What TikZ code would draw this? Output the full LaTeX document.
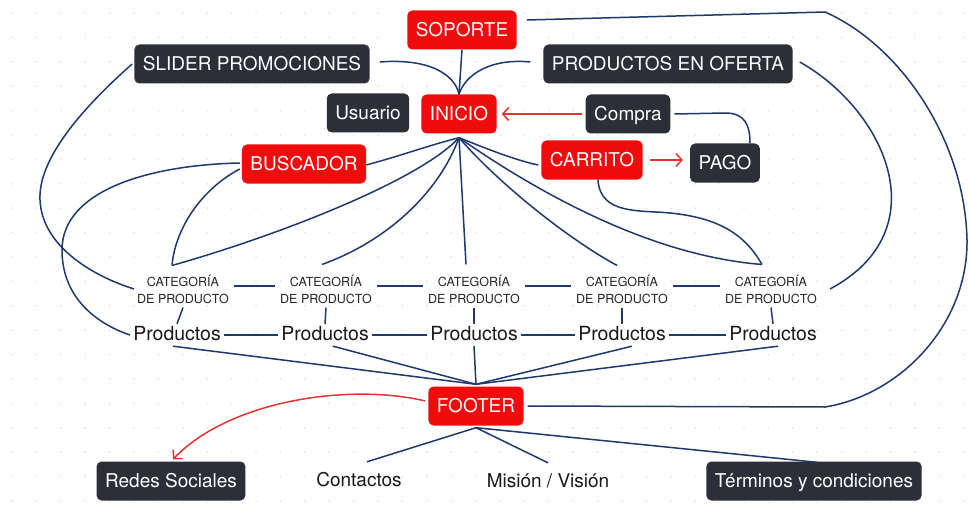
\documentclass[tikz,border=0pt]{standalone}
\usepackage{fontspec}
\setmainfont{TeX Gyre Heros}
\usetikzlibrary{arrows.meta}
\definecolor{nodered}{RGB}{240,12,12}
\definecolor{nodedark}{RGB}{44,47,56}
\definecolor{linkblue}{RGB}{30,58,108}
\definecolor{arrowred}{RGB}{226,52,52}
\definecolor{dotgray}{RGB}{228,228,228}
\tikzset{
  boxbase/.style={rounded corners=5pt, text=white, font=\fontsize{19}{22}\selectfont,
    minimum height=39pt, inner xsep=8.5pt, text height=13.7pt, text depth=0pt},
  redbox/.style={boxbase, fill=nodered},
  darkbox/.style={boxbase, fill=nodedark},
  cat/.style={font=\fontsize{12.5}{17}\selectfont, align=center, text=black!85, inner xsep=5pt, inner ysep=4pt},
  prod/.style={font=\fontsize{19.5}{22}\selectfont, text=black!90, inner xsep=3pt, inner ysep=2pt, text height=14pt, text depth=4pt},
  plain/.style={font=\fontsize{19}{22}\selectfont, text=black!90, inner sep=2pt, text height=14pt, text depth=4pt},
  link/.style={draw=linkblue, line width=1.5pt},
  redlink/.style={draw=arrowred, line width=1.5pt, -{Straight Barb[length=6pt,width=13pt,line width=1.5pt]}}
}
\begin{document}
\begin{tikzpicture}[x=1pt,y=-1pt]
\useasboundingbox (0,0) rectangle (969,508);
\fill[white] (0,0) rectangle (969,508);
\foreach \i in {0,...,39}{
  \foreach \j in {0,...,20}{
    \fill[dotgray] (12+24.4*\i, 13+24.4*\j) circle (1pt);
  }
}
% nodes
\node[redbox] (sop) at (462,30) {SOPORTE};
\node[darkbox] (sli) at (252,64) {SLIDER PROMOCIONES};
\node[darkbox] (ofe) at (668,64) {PRODUCTOS EN OFERTA};
\node[darkbox] (usu) at (368,113) {Usuario};
\node[redbox] (ini) at (459,114) {INICIO};
\node[darkbox] (com) at (628,114) {Compra};
\node[redbox] (bus) at (304,164) {BUSCADOR};
\node[redbox] (car) at (592,160) {CARRITO};
\node[darkbox] (pag) at (725,163) {PAGO};
\node[cat] (c1) at (183,289) {CATEGORÍA\\DE PRODUCTO};
\node[cat] (c2) at (326,289) {CATEGORÍA\\DE PRODUCTO};
\node[cat] (c3) at (474,289) {CATEGORÍA\\DE PRODUCTO};
\node[cat] (c4) at (622,289) {CATEGORÍA\\DE PRODUCTO};
\node[cat] (c5) at (771,289) {CATEGORÍA\\DE PRODUCTO};
\node[prod] (p1) at (177,335) {Productos};
\node[prod] (p2) at (325,335) {Productos};
\node[prod] (p3) at (474,335) {Productos};
\node[prod] (p4) at (622,335) {Productos};
\node[prod] (p5) at (773,335) {Productos};
\node[redbox] (foo) at (476,406) {FOOTER};
\node[darkbox] (red) at (171,481) {Redes Sociales};
\node[plain] (con) at (359,481) {Contactos};
\node[plain] (mis) at (548,482) {Misión / Visión};
\node[darkbox] (ter) at (814,481) {Términos y condiciones};
\coordinate (hub) at ([yshift=-4pt]ini.south);
\coordinate (fhub) at ([yshift=2pt]foo.north);
\coordinate (fbot) at ([yshift=-2pt]foo.south);
\coordinate (c1top) at ([xshift=-11pt,yshift=5pt]c1.north);
\coordinate (c5top) at ([xshift=-9pt,yshift=6pt]c5.north);
% top connectors
\draw[link] (sop.south) -- (ini.north);
\draw[link] ([xshift=10pt,yshift=2pt]sli.east) .. controls (430,58) and (455,75) .. (ini.north);
\draw[link] ([xshift=-13pt,yshift=2pt]ofe.west) .. controls (490,58) and (465,75) .. (ini.north);
\draw[link] ([xshift=10pt,yshift=10pt]sop.east) -- (825,12)
  .. controls (900,45) and (965,140) .. (967,240)
  .. controls (968,325) and (900,395) .. (825,407) -- ([xshift=4pt]foo.east);
\draw[link] ([xshift=7pt,yshift=2pt]ofe.east) .. controls (885,110) and (940,230) .. ([xshift=8pt]c5.east);
\draw[link] ([xshift=-2pt]sli.west) .. controls (80,110) and (38,160) .. (40,200)
  .. controls (42,245) and (90,275) .. ([xshift=2pt]c1.west);
\draw[link] ([xshift=-2pt,yshift=1pt]bus.west) .. controls (150,165) and (62,190) .. (62,250)
  .. controls (62,300) and (100,325) .. (p1.west);
\draw[link] ([xshift=-2pt,yshift=-5pt]bus.west) .. controls (200,190) and (175,230) .. (c1top);
% fan from INICIO
\draw[link] (hub) .. controls (430,145) and (400,156) .. ([yshift=-1pt]bus.east);
\draw[link] (hub) .. controls (420,180) and (280,235) .. (c1top);
\draw[link] (hub) .. controls (440,190) and (390,240) .. ([xshift=-4pt,yshift=6pt]c2.north);
\draw[link] (hub) -- ([xshift=-8pt,yshift=6pt]c3.north);
\draw[link] (hub) .. controls (500,185) and (570,240) .. ([xshift=-5pt,yshift=5pt]c4.north);
\draw[link] (hub) .. controls (520,180) and (640,255) .. (c5top);
\draw[link] (hub) .. controls (490,150) and (515,160) .. ([xshift=-3pt,yshift=-5pt]car.west);
\draw[link] ([xshift=6pt]car.south) .. controls (600,215) and (640,210) .. (670,213)
  .. controls (720,218) and (745,235) .. (c5top);
\draw[link] ([xshift=4pt]com.east) -- (725,113) .. controls (745,113) and (750,125) .. ([xshift=25pt]pag.north);
% red arrows
\draw[redlink] ([xshift=-4pt]com.west) -- ([xshift=5pt]ini.east);
\draw[redlink] ([xshift=7pt]car.east) -- ([xshift=-7pt]pag.west |- car.east);
% category / product grid
\foreach \a/\b in {c1/c2,c2/c3,c3/c4,c4/c5}{
  \draw[link] ([yshift=3pt]\a.east) -- ([yshift=3pt]\b.west);
}
\foreach \a/\b in {p1/p2,p2/p3,p3/p4,p4/p5}{
  \draw[link] (\a.east) -- (\b.west);
}
\foreach \k in {1,...,5}{
  \draw[link] (c\k.south) -- (p\k.north);
}
% products to footer
\draw[link] ([xshift=-4pt]p1.south) -- (fhub);
\draw[link] ([xshift=8pt]p2.south) -- (fhub);
\draw[link] (p3.south) -- (fhub);
\draw[link] ([xshift=10pt]p4.south) -- (fhub);
\draw[link] ([xshift=5pt]p5.south) -- (fhub);
% footer
\draw[redlink] ([xshift=-3pt,yshift=5pt]foo.west) .. controls (350,383) and (230,400) .. ([xshift=2pt,yshift=2pt]red.north);
\draw[link] (fbot) -- ([xshift=8pt,yshift=8pt]con.north);
\draw[link] (fbot) -- ([yshift=8pt]mis.north);
\draw[link] (fbot) -- ([xshift=3pt,yshift=-1pt]ter.north);
\end{tikzpicture}
\end{document}
